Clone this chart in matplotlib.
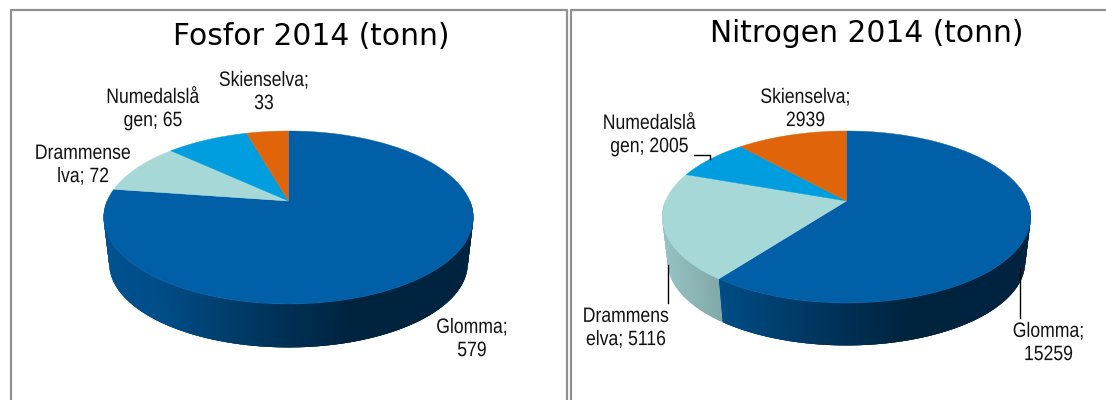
from matplotlib import pyplot as plt
from matplotlib.collections import PolyCollection
from matplotlib.colors import to_rgb
from matplotlib.patheffects import AbstractPathEffect
from matplotlib.transforms import Affine2D
import numpy as np

# ---------------- data ------------------------------------------
fosfor_values = [579, 72, 65, 33]
fosfor_labels = ["Glomma;\n579", "Drammense\nlva; 72", "Numedalslå\ngen; 65", "Skienselva;\n33"]
nitrogen_values = [15259, 5116, 2005, 2939]
nitrogen_labels = ["Glomma;\n15259", "Drammens\nelva; 5116", "Numedalslå\ngen; 2005", "Skienselva;\n2939"]
colors = ["#005fa7", "#a7d8d8", "#009ddf", "#e0640a"]

# wall shading against position across the pie
shade_pos = [0.0, 0.16, 0.5, 0.68, 1.0]
shade_glomma = [0.86, 0.80, 0.50, 0.37, 0.38]
shade_pale = [0.90, 0.78, 0.70, 0.70, 0.70]


class Squeeze(AbstractPathEffect):
    # the labels are set in a condensed face, none installed so narrow the glyphs
    def __init__(self, center_x, factor):
        super().__init__()
        self.center_x = center_x
        self.factor = factor

    def draw_path(self, renderer, gc, tpath, affine, rgbFace=None):
        squeeze = Affine2D().translate(-self.center_x, 0).scale(self.factor, 1).translate(self.center_x, 0)
        renderer.draw_path(gc, tpath, affine + squeeze, rgbFace)


def project(theta, cx, apex_y, top_y, low_y, half_w):
    # perspective view of a flat disc, theta clockwise from the top
    u, v = np.sin(theta), np.cos(theta)
    c = (2 * apex_y - top_y - low_y) / (top_y - low_y)
    a = top_y * (1 + c) - apex_y
    den = 1 + c * v
    return cx + half_w * u / den, (a * v + apex_y) / den


def draw_pie(ax, values, cx, apex_y, top_y, low_y, half_w, wall_drop, wall_scale):
    fractions = np.array(values) / sum(values) * 2 * np.pi
    ends = np.cumsum(fractions)
    starts = ends - fractions
    mid_y = (top_y + low_y) / 2

    def rim(theta):
        x, y = project(theta, cx, apex_y, top_y, low_y, half_w)
        return np.column_stack([x, y])

    def lower_rim(theta):
        pts = rim(theta)
        pts[:, 0] = cx + (pts[:, 0] - cx) * wall_scale
        pts[:, 1] = mid_y + (pts[:, 1] - mid_y) * wall_scale + wall_drop
        return pts

    # walls, only the front half shows
    for i in range(len(values)):
        lo, hi = max(starts[i], np.pi / 2), min(ends[i], 3 * np.pi / 2)
        if hi <= lo:
            continue
        steps = np.linspace(lo, hi, int((hi - lo) * 120) + 2)
        up, down = rim(steps), lower_rim(steps)
        quads, faces = [], []
        shades = shade_glomma if i == 0 else shade_pale
        for k in range(len(steps) - 1):
            # overlap the next strips so no background shows between them
            n = min(k + 3, len(steps) - 1)
            quads.append(np.vstack([up[k:n + 1], down[k:n + 1][::-1]]))
            pos = (up[k, 0] - (cx - half_w * 1.02)) / (2 * half_w * 1.02)
            faces.append(np.array(to_rgb(colors[i])) * np.interp(pos, shade_pos, shades))
        ax.add_collection(PolyCollection(quads, facecolors=faces, edgecolors="none"))

    # top face
    for i in range(len(values)):
        steps = np.linspace(starts[i], ends[i], 200)
        pts = np.vstack([[[cx, apex_y]], rim(steps)])
        ax.fill(pts[:, 0], pts[:, 1], color=colors[i], lw=0.3, zorder=3)


fig = plt.figure(figsize=(11.06, 4.0), dpi=100)
ax = fig.add_axes([0, 0, 1, 1])
ax.set_xlim(0, 1106)
ax.set_ylim(400, 0)
ax.axis("off")

# panel frames
frame = "#909090"
ax.plot([10.5, 10.5, 567, 567], [400, 9.5, 9.5, 400], color=frame, lw=1.6)
ax.plot([571, 571, 1106], [400, 9.5, 9.5], color=frame, lw=1.6)

draw_pie(ax, fosfor_values, 288.5, 201, 131, 304, 181.4, 46, 0.97)
draw_pie(ax, nitrogen_values, 846.5, 201, 131, 303, 181.0, 45, 0.97)

ax.text(311, 36.5, "Fosfor 2014 (tonn)", ha="center", va="center", fontsize=21.4, family="DejaVu Sans")
ax.text(867, 33.5, "Nitrogen 2014 (tonn)", ha="center", va="center", fontsize=21.4, family="DejaVu Sans")

label_pos_left = [(472, 339), (83, 165), (153, 109), (264, 92)]
label_pos_right = [(1048.5, 343), (626, 328), (649.5, 135), (805.5, 109)]
for labels, spots in [(fosfor_labels, label_pos_left), (nitrogen_labels, label_pos_right)]:
    for text, (x, y) in zip(labels, spots):
        label = ax.text(x, y, text, ha="center", va="center", fontsize=15, family="Liberation Sans",
                        linespacing=1.28, color="#111111", zorder=5)
        label.set_path_effects([Squeeze(x, 0.845)])

# leader lines
ax.plot([694, 710, 710], [154.5, 154.5, 159], color="black", lw=1, zorder=4)
ax.plot([668, 668], [265, 303], color="black", lw=1, zorder=4)
ax.plot([1020, 1020], [268, 318], color="black", lw=1, zorder=4)

plt.savefig("out.png", dpi=100)
